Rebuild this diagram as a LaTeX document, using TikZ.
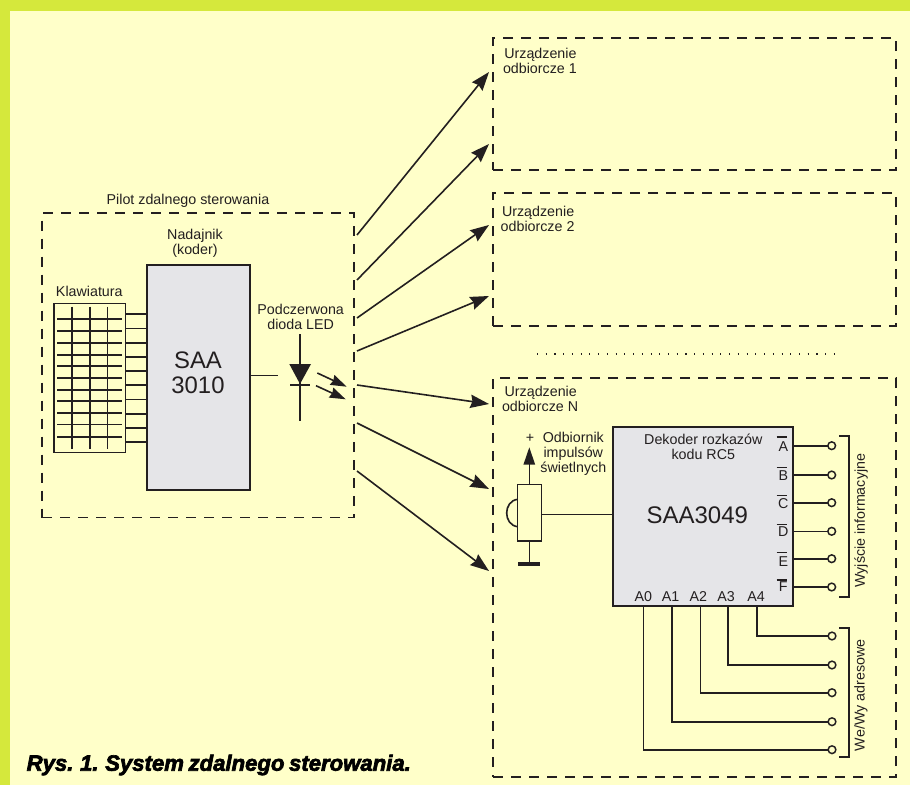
\documentclass[tikz,border=0pt]{standalone}
\usepackage{fontspec}
\setmainfont{Liberation Sans}
\newfontfamily\capfont[BoldItalicFeatures={FakeBold=3},WordSpace=0.75]{Liberation Sans}
\usetikzlibrary{arrows.meta,fit}
\definecolor{paper}{HTML}{FFFFC9}
\definecolor{lime}{HTML}{D5E83C}
\definecolor{ink}{HTML}{231F20}
\definecolor{chip}{HTML}{E5E5E8}
\tikzset{
  every node/.style={text=ink,inner sep=0pt,outer sep=0pt},
  lab/.style={font=\fontsize{10.7}{11.25}\selectfont,align=center},
  big/.style={font=\fontsize{17.9}{18.8}\selectfont,align=center},
  wire/.style={draw=ink,line width=1.2pt},
  fine/.style={draw=ink,line width=0.9pt},
  dashbox/.style={draw=ink,line width=1.05pt,dash pattern=on 7.5pt off 6pt,inner sep=0pt,fit={#1}},
  chipbox/.style={draw=ink,fill=chip,line width=1.25pt,inner sep=0pt,fit={#1}},
  plainbox/.style={draw=ink,line width=1.15pt,inner sep=0pt,fit={#1}},
  beam/.style={draw=ink,line width=1.2pt,-{Stealth[length=14pt,width=10pt,inset=1.5pt]}},
  term/.style={circle,draw=ink,fill=paper,line width=1.1pt,minimum size=5.8pt},
}
\begin{document}
\begin{tikzpicture}[x=0.75pt,y=-0.75pt]
\useasboundingbox (0,0) rectangle (910,785);
\fill[paper] (0,0) rectangle (910,785);
\fill[lime] (0,0) rectangle (910,11);
\fill[lime] (0,0) rectangle (10,785);

% dashed frames
\node[dashbox={(42,213)(354,517.5)}] (pilot) {};
\node[dashbox={(493,38)(896,170)}] (dev1) {};
\node[dashbox={(493,193)(896,326)}] (dev2) {};
\node[dashbox={(493,378)(896,777)}] (devn) {};
\draw[ink,line width=0.8pt,dash pattern=on 0.8pt off 5.75pt] (537,354) -- (842,354);

% texts of frames
\node[lab] (tpilot) at (188,201) {Pilot zdalnego sterowania};
\node[lab,anchor=west,align=left] (tdev1) at (503,60.8) {\hspace*{1pt}Urządzenie\\odbiorcze 1};
\node[lab,anchor=west,align=left] (tdev2) at (500.7,218.5) {\hspace*{1pt}Urządzenie\\odbiorcze 2};
\node[lab,anchor=west,align=left] (tdevn) at (502,398.8) {\hspace*{2pt}Urządzenie\\odbiorcze N};

% keyboard
\node[plainbox={(54,303.3)(125.3,452.7)}] (kbd) {};
\node[lab] (tkbd) at (89.3,291) {Klawiatura};
\foreach \x in {72,90,107.3} \draw[wire] (\x,306.7) -- (\x,448.7);
\foreach \y in {319,331,342.7,354.7,365.7,377.7,390,400.7,412.7,424.3,436.7}
  \draw[wire] (57.3,\y) -- (122,\y);

% encoder
\node[chipbox={(146.7,265)(250.3,490.3)}] (saa) {};
\node[big] (tsaa) at (198,373.2) {SAA\\3010};
\node[lab] (tenc) at (195,243.8) {Nadajnik\\(koder)};
\foreach \y in {314,328.3,342.7,356.7,371,385,399.3,414,428,442}
  \draw[wire] (kbd.east |- 0,\y) -- (saa.west |- 0,\y);

% LED
\node[lab] (tled) at (300.7,316.5) {Podczerwona\\dioda LED};
\coordinate (ledtop) at (300,334);
\coordinate (ledbot) at (300,420.7);
\coordinate (ledin) at (278.3,375.3);
\draw[fine] (saa.east |- ledin) -- (ledin);
\draw[wire] (ledtop) -- (ledbot);
\fill[ink] (289.3,364) -- (311,364) -- (300,384) -- cycle;
\draw[wire] (290,384.7) -- (310,384.7);
\coordinate (ra1) at (317.3,373);
\coordinate (ra2) at (346.7,386.7);
\coordinate (rb1) at (316,385.7);
\coordinate (rb2) at (345.7,399.3);
\draw[draw=ink,line width=1.2pt,-{Stealth[length=12pt,width=8pt,inset=1pt]}] (ra1) -- (ra2);
\draw[draw=ink,line width=1.2pt,-{Stealth[length=12pt,width=8pt,inset=1pt]}] (rb1) -- (rb2);

% beams
\foreach \n/\a/\b/\c/\d in {1/357/235/489/72,2/357/280/489/144,3/357/318/489/225,4/357/351/489/296,5/357/385/489/404,6/357/423/489/489,7/357/471/489/571}{
  \coordinate (s\n) at (\a,\b);
  \coordinate (e\n) at (\c,\d);
  \draw[beam] (s\n) -- (e\n);
}

% decoder
\node[chipbox={(613.3,426.7)(792.7,606.3)}] (dec) {};
\node[lab] (tdec) at (703.3,446.5) {Dekoder rozkazów\\kodu RC5};
\node[font=\fontsize{18}{18}\selectfont] (tchip) at (697.3,515.3) {SAA3049};

% receiver
\node[plainbox={(517.7,484.3)(541.7,541)}] (rx) {};
\coordinate (rxtip) at (529.3,447.3);
\coordinate (gnd) at (529.3,564);
\draw[draw=ink,line width=1.2pt,-{Stealth[length=13pt,width=8.5pt,inset=0pt]}] (rx.north -| rxtip) -- (rxtip);
\draw[wire] (rx.south -| gnd) -- (gnd);
\draw[draw=ink,line width=3pt] (518.3,564) -- (540.3,564);
\draw[wire] (517.7,499.3) .. controls (503,501) and (503,525) .. (517.7,526.7);
\coordinate (rxout) at (541.7,514.3);
\draw[wire] (rxout) -- (dec.west |- rxout);
\node[lab] (tplus) at (530,438) {+};
\node[lab] (trx) at (573.3,454) {Odbiornik\\impulsów\\świetlnych};

% outputs
\foreach \n/\t/\ty/\ly/\wy in {a/A/446.7/437/445.7,b/B/476/467.7/475,c/C/504/495.7/502.7,d/D/531.7/524.7/531.3,e/E/561.3/552.7/558.7,f/F/586.7/580/587}{
  \node[lab] (l\n) at (783.3,\ty) {\t};
  \draw[fine] (776.7,\ly) -- (787,\ly);
  \node[term] (o\n) at (831.7,\wy) {};
  \draw[wire] (dec.east |- o\n) -- (o\n);
}
\coordinate (b1a) at (839.3,436);
\coordinate (b1b) at (849,436);
\coordinate (b1c) at (849,597);
\coordinate (b1d) at (839.3,597);
\draw[wire] (b1a) -- (b1b) -- (b1c) -- (b1d);
\node[lab,rotate=90] (tout) at (861,520.7) {Wyjście informacyjne};

% address lines
\foreach \n/\x/\lx/\wy in {0/643.3/643.3/749.7,1/671.7/670.7/721.7,2/700.3/698.3/692.7,3/728/726/665,4/756.7/756/636}{
  \node[lab] (la\n) at (\lx,596.7) {A\n};
  \coordinate (p\n) at (\x,606.3);
  \node[term] (w\n) at (832,\wy) {};
  \draw[wire] (p\n) |- (w\n);
}
\coordinate (b2a) at (839,627.7);
\coordinate (b2b) at (849,627.7);
\coordinate (b2c) at (849,756.7);
\coordinate (b2d) at (839,756.7);
\draw[wire] (b2a) -- (b2b) -- (b2c) -- (b2d);
\node[lab,rotate=90] (taddr) at (861,695.3) {We/Wy adresowe};

% caption
\node[anchor=west,text=black,font=\fontsize{16.6}{16}\selectfont\capfont\bfseries\itshape] (cap) at (26.7,765) {Rys. 1. System zdalnego sterowania.};
\end{tikzpicture}
\end{document}
